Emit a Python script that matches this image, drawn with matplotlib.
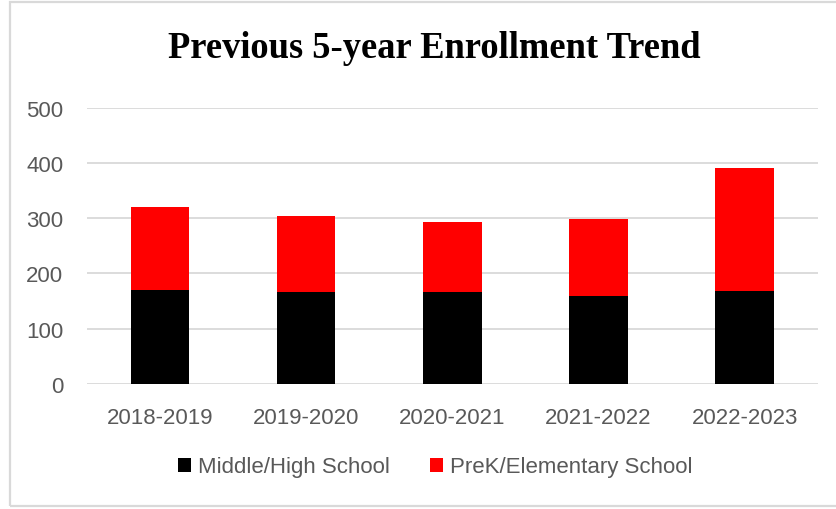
import numpy as np
import matplotlib.pyplot as plt
from matplotlib.patches import Rectangle

# --- data ---
years = ["2018-2019", "2019-2020", "2020-2021", "2021-2022", "2022-2023"]
middle_high = [170, 166, 166, 159, 169]
prek_elem = [150, 139, 127, 140, 223]

label_font = ["Liberation Sans", "DejaVu Sans"]
grey = "#595959"

fig = plt.figure(figsize=(8.36, 5.10), dpi=100)
ax = fig.add_axes([87 / 836, 1 - 384.7 / 510, (817.7 - 87) / 836, (384.7 - 109) / 510])

x = np.arange(len(years))
ax.bar(x, middle_high, width=0.4, color="black", label="Middle/High School", zorder=3)
ax.bar(x, prek_elem, width=0.4, bottom=middle_high, color="#ff0000",
       label="PreK/Elementary School", zorder=3)

ax.set_xlim(-0.5, len(years) - 0.5)
ax.set_ylim(0, 500)
ax.set_yticks(range(0, 501, 100))
ax.set_xticks(x)
ax.set_xticklabels(years)
ax.grid(axis="y", color="#d9d9d9", linewidth=1.3, zorder=0)
for s in ax.spines.values():
    s.set_visible(False)
ax.tick_params(axis="both", length=0, colors=grey, labelsize=16)
ax.tick_params(axis="y", pad=17)
ax.tick_params(axis="x", pad=17)
for lab in ax.get_xticklabels() + ax.get_yticklabels():
    lab.set_family(label_font)

leg = fig.legend(loc="center", bbox_to_anchor=(435 / 836, 1 - 468 / 510), ncol=2,
                 frameon=False, handlelength=0.6, handleheight=0.6, handletextpad=0.3,
                 columnspacing=1.8, prop={"family": label_font, "size": 16})
for t in leg.get_texts():
    t.set_color(grey)

fig.text(434 / 836, 1 - 49 / 510, "Previous 5-year Enrollment Trend", ha="center", va="center",
         family="Liberation Serif", weight="bold", fontsize=26.3)

# chart frame
fig.patches.append(Rectangle((10 / 836, 3 / 510), 830 / 836, 504 / 510, transform=fig.transFigure,
                             fill=False, edgecolor="#d9d9d9", linewidth=1.6))

fig.savefig("out.png", dpi=100)
